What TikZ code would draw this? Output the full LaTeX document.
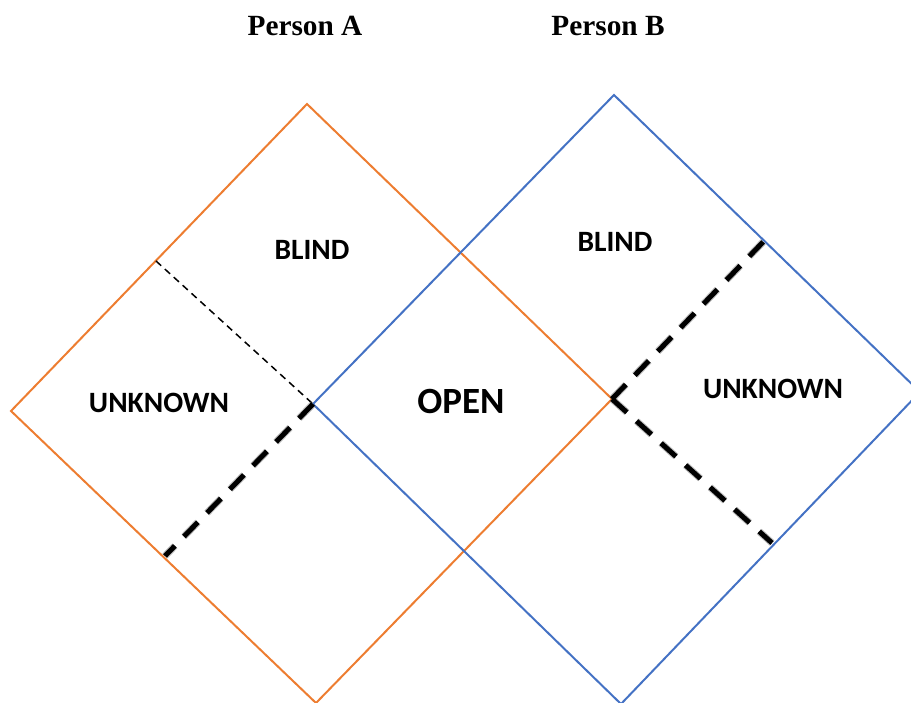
\documentclass[tikz,border=0pt]{standalone}
\usepackage{fontspec}
\setmainfont{Liberation Serif}
\newfontfamily\labelfont{Carlito}
\begin{document}
\begin{tikzpicture}[x=1pt,y=-1pt,
  orangeedge/.style={draw={rgb,255:red,237;green,125;blue,49}, line width=2pt, line join=miter},
  blueedge/.style={draw={rgb,255:red,68;green,114;blue,196}, line width=2pt, line join=miter},
  thindash/.style={draw=black, line width=1.5pt, dash pattern=on 7pt off 5pt},
  thickdash/.style={draw=black, line width=5pt, dash pattern=on 20pt off 13pt},
  shadowdash/.style={draw=black!50, line width=7pt, dash pattern=on 20pt off 13pt, opacity=0.22},
  quadrant/.style={font=\labelfont\bfseries\fontsize{29.5}{34}\selectfont, inner sep=0pt},
  heading/.style={font=\bfseries\fontsize{29.3}{34}\selectfont, inner sep=0pt}]
\useasboundingbox (0,0) rectangle (911,703);

% corners of the two windows
\coordinate (aT) at (307,104);
\coordinate (aR) at (612,399);
\coordinate (aB) at (316,703);
\coordinate (aL) at (11,411);
\coordinate (bT) at (614,95);
\coordinate (bR) at (920,392);
\coordinate (bB) at (621,704);
\coordinate (bL) at (313,404);

% ends of the dividing lines
\coordinate (aBlindEnd) at (156,261);
\coordinate (aUnknownEnd) at (165,556);
\coordinate (bBlindEnd) at (765,240);
\coordinate (bHiddenEnd) at (772,543);

\begin{scope}
\clip (0,0) rectangle (911,703);
\draw[orangeedge] (aT) -- (aR) -- (aB) -- (aL) -- cycle;
\draw[blueedge] (bT) -- (bR) -- (bB) -- (bL) -- cycle;
\end{scope}

% thin divider in window A
\draw[thindash] (aBlindEnd) -- (bL);

% soft shadows under the heavy dividers
\foreach \dx/\dy in {2/3,3/4,4/5}{
  \draw[shadowdash, shift={(\dx,\dy)}] (bL) -- (aUnknownEnd);
  \draw[shadowdash, shift={(\dx,\dy)}] (aR) -- (bBlindEnd);
  \draw[shadowdash, shift={(\dx,\dy)}] (aR) -- (bHiddenEnd);
}
% heavy dividers
\draw[thickdash] (bL) -- (aUnknownEnd);
\draw[thickdash] (aR) -- (bBlindEnd);
\draw[thickdash] (aR) -- (bHiddenEnd);

% quadrant labels
\node[quadrant] (blindA) at (312,250) {BLIND};
\node[quadrant] (unknownA) at (159,403) {UNKNOWN};
\node[quadrant, font=\labelfont\bfseries\fontsize{37}{42}\selectfont] (open) at (461,401) {OPEN};
\node[quadrant] (blindB) at (615,242) {BLIND};
\node[quadrant] (unknownB) at (773,389) {UNKNOWN};

% headings
\node[heading] (personA) at (305,26) {Person A};
\node[heading] (personB) at (608,26) {Person B};
\end{tikzpicture}
\end{document}
